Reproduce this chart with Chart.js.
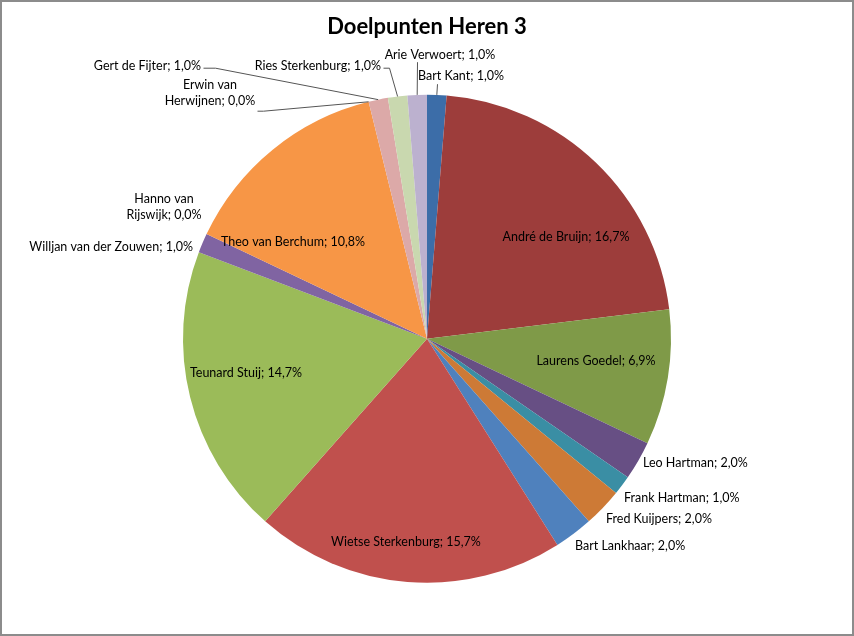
<!DOCTYPE html>
<html>
<head>
<meta charset="utf-8">
<title>Doelpunten Heren 3</title>
<script src="https://cdn.jsdelivr.net/npm/chart.js@4.4.1/dist/chart.umd.min.js"></script>
<style>
    html, body { margin: 0; padding: 0; background: #fff; }
    #frame {
        width: 854px;
        height: 636px;
        box-sizing: border-box;
        border: 2px solid #8c8c8c;
        background: #fff;
    }
    #chart { display: block; }
</style>
</head>
<body>
<div id="frame">
    <canvas id="chart" width="850" height="632"></canvas>
</div>
<script>
// players, clockwise from 12 o'clock
const players = [
    'Bart Kant', 'André de Bruijn', 'Laurens Goedel', 'Leo Hartman',
    'Frank Hartman', 'Fred Kuijpers', 'Bart Lankhaar', 'Wietse Sterkenburg',
    'Teunard Stuij', 'Willjan van der Zouwen', 'Hanno van Rijswijk',
    'Theo van Berchum', 'Erwin van Herwijnen', 'Gert de Fijter',
    'Ries Sterkenburg', 'Arie Verwoert'
];
// goals per player (slice size)
const goals = [1, 17, 7, 2, 1, 2, 2, 16, 15, 1, 0, 11, 0, 1, 1, 1];
// percentages as printed on the labels
const percentages = [1.0, 16.7, 6.9, 2.0, 1.0, 2.0, 2.0, 15.7, 14.7, 1.0, 0.0, 10.8, 0.0, 1.0, 1.0, 1.0];

const sliceColors = [
    '#3C6DA8', '#9D3D3B', '#7F9A48', '#674F84', '#3A8EA4', '#CD7A36',
    '#4F81BD', '#C0504D', '#9BBB59', '#8064A2', '#4BACC6', '#F79646',
    '#A7C0DE', '#DCA9A8', '#C9D8AF', '#BCB1CF'
];

// label placement relative to the pie centre (dx, dy), text alignment,
// optional leader start points and line break
const labelPlacement = [
    {dx: 34, dy: -263, align: 'center', leader: [[10, -255]]},
    {dx: 139, dy: -102, align: 'center'},
    {dx: 169, dy: 22, align: 'center'},
    {dx: 216, dy: 124, align: 'left'},
    {dx: 197, dy: 159, align: 'left'},
    {dx: 179, dy: 180, align: 'left'},
    {dx: 148, dy: 207, align: 'left'},
    {dx: -21, dy: 203, align: 'center'},
    {dx: -181, dy: 34, align: 'center'},
    {dx: -234, dy: -92, align: 'right'},
    {dx: -263, dy: -132, align: 'center', breakAfter: 2},
    {dx: -134, dy: -97, align: 'center'},
    {dx: -217, dy: -246, align: 'center', breakAfter: 2, leader: [[-170, -228], [-164, -228]]},
    {dx: -226, dy: -273, align: 'right', leader: [[-224, -271], [-212, -271]]},
    {dx: -46, dy: -273, align: 'right', leader: [[-44, -271], [-38, -271]]},
    {dx: 13, dy: -284, align: 'center', leader: [[-10, -277]]}
];

const pieLabels = {
    id: 'pieLabels',
    afterDatasetsDraw(chart, args, opts) {
        const ctx = chart.ctx;
        const meta = chart.getDatasetMeta(0);
        ctx.save();
        ctx.font = opts.font;
        ctx.fillStyle = opts.color;
        ctx.textBaseline = 'middle';
        meta.data.forEach(function (arc, i) {
            const p = arc.getProps(['x', 'y', 'startAngle', 'endAngle', 'outerRadius'], true);
            const place = labelPlacement[i];
            const mid = (p.startAngle + p.endAngle) / 2;
            const edgeX = p.x + Math.cos(mid) * p.outerRadius;
            const edgeY = p.y + Math.sin(mid) * p.outerRadius;

            if (place.leader) {
                ctx.beginPath();
                ctx.strokeStyle = opts.leaderColor;
                ctx.lineWidth = 1;
                place.leader.forEach(function (pt, k) {
                    const lx = p.x + pt[0] + 0.5, ly = p.y + pt[1] + 0.5;
                    if (k === 0) ctx.moveTo(lx, ly); else ctx.lineTo(lx, ly);
                });
                ctx.lineTo(edgeX, edgeY);
                ctx.stroke();
            }

            const pct = percentages[i].toFixed(1).replace('.', ',') + '%';
            let lines = [players[i] + '; ' + pct];
            if (place.breakAfter) {
                const words = lines[0].split(' ');
                lines = [words.slice(0, place.breakAfter).join(' '), words.slice(place.breakAfter).join(' ')];
            }
            ctx.textAlign = place.align;
            const lh = opts.lineHeight;
            const top = p.y + place.dy - (lines.length - 1) * lh / 2;
            lines.forEach(function (t, k) {
                ctx.fillText(t, p.x + place.dx, top + k * lh);
            });
        });
        ctx.restore();
    }
};

new Chart(document.getElementById('chart'), {
    type: 'pie',
    data: {
        labels: players,
        datasets: [{
            data: goals,
            backgroundColor: sliceColors,
            borderWidth: 0
        }]
    },
    options: {
        responsive: false,
        animation: false,
        events: [],
        radius: 244,
        layout: {
            padding: {top: 0, left: 181, right: 181, bottom: 51}
        },
        plugins: {
            legend: {display: false},
            tooltip: {enabled: false},
            title: {
                display: true,
                text: 'Doelpunten Heren 3',
                color: '#000',
                font: {family: 'Lato', size: 22, weight: 'bold', lineHeight: 1.2},
                padding: {top: 12, bottom: 54}
            },
            pieLabels: {
                font: '12.5px Lato',
                color: '#000',
                leaderColor: '#555',
                lineHeight: 16
            }
        }
    },
    plugins: [pieLabels]
});
</script>
</body>
</html>
